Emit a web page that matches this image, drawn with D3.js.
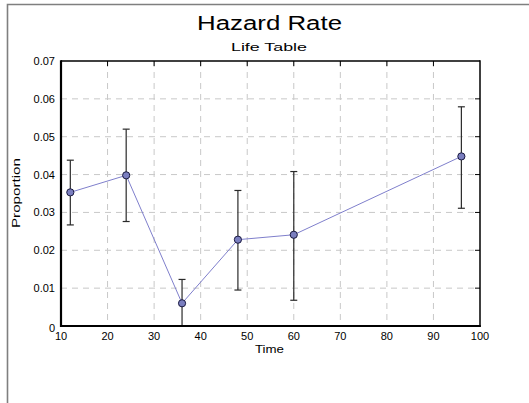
<!DOCTYPE html>
<html><head><meta charset="utf-8">
<script src="https://cdn.jsdelivr.net/npm/d3@7"></script>
<style>body{margin:0;background:#fff}svg{display:block}text{font-family:"Liberation Sans",Arial,sans-serif;fill:#000}</style>
</head><body><svg id="c" width="529" height="403"></svg>
<script>
const times = [12, 24, 36, 48, 60, 96];
const hazard = [0.0353, 0.0398, 0.0060, 0.0228, 0.0241, 0.0448];
const upper = [0.0438, 0.0520, 0.0123, 0.0358, 0.0408, 0.0579];
const lower = [0.0267, 0.0276, -0.0010, 0.0095, 0.0068, 0.0311];
const xTicks = [10,20,30,40,50,60,70,80,90,100];
const yTicks = [0,0.01,0.02,0.03,0.04,0.05,0.06,0.07];
const yTickLabels = ["0","0.01","0.02","0.03","0.04","0.05","0.06","0.07"];

const svg = d3.select("#c");
const L=61, R=480, T=61, B=326;
const x = d3.scaleLinear().domain([10,100]).range([L,R]);
const y = d3.scaleLinear().domain([0,0.07]).range([B,T]);

// outer frame
svg.append("path").attr("d","M7.5,540 L7.5,4.5 L540,4.5").attr("fill","none").attr("stroke","#7f7f7f").attr("stroke-width",1.6);

// grid
const g = svg.append("g");
g.selectAll(".vg").data(xTicks.slice(1,-1)).join("line")
 .attr("x1",d=>x(d)).attr("x2",d=>x(d)).attr("y1",T).attr("y2",B)
 .attr("stroke","#c8c8c8").attr("stroke-dasharray","6,5");
g.selectAll(".hg").data(yTicks.slice(1,-1)).join("line")
 .attr("y1",d=>y(d)).attr("y2",d=>y(d)).attr("x1",L).attr("x2",R)
 .attr("stroke","#c8c8c8").attr("stroke-dasharray","6,5");

// inward ticks on top and right
g.selectAll(".tt").data(xTicks.slice(1,-1)).join("line")
 .attr("x1",d=>x(d)).attr("x2",d=>x(d)).attr("y1",T).attr("y2",T+5).attr("stroke","#000");
g.selectAll(".rt").data(yTicks.slice(1,-1)).join("line")
 .attr("y1",d=>y(d)).attr("y2",d=>y(d)).attr("x1",R).attr("x2",R-5).attr("stroke","#000");

svg.append("clipPath").attr("id","pc").append("rect").attr("x",L).attr("y",T).attr("width",R-L).attr("height",B-T);
const data = times.map((t,i)=>({t,h:hazard[i],u:upper[i],l:lower[i]}));
const pg = svg.append("g").attr("clip-path","url(#pc)");
// line
pg.append("path").datum(data).attr("fill","none").attr("stroke","#7f7fcc").attr("stroke-width",1)
 .attr("d",d3.line().x(d=>x(d.t)).y(d=>y(d.h)));
// error bars
const eb = pg.selectAll(".eb").data(data).join("g").attr("stroke","#2a2a2a").attr("stroke-width",1.2);
eb.append("line").attr("x1",d=>x(d.t)).attr("x2",d=>x(d.t)).attr("y1",d=>y(d.u)).attr("y2",d=>y(d.l));
eb.append("line").attr("x1",d=>x(d.t)-3.5).attr("x2",d=>x(d.t)+3.5).attr("y1",d=>y(d.u)).attr("y2",d=>y(d.u));
eb.append("line").attr("x1",d=>x(d.t)-3.5).attr("x2",d=>x(d.t)+3.5).attr("y1",d=>y(d.l)).attr("y2",d=>y(d.l));
// markers
svg.selectAll(".pt").data(data).join("circle").attr("cx",d=>x(d.t)).attr("cy",d=>y(d.h)).attr("r",3.6)
 .attr("fill","#7b7fc0").attr("stroke","#1a1a40").attr("stroke-width",1);

// plot border
svg.append("line").attr("x1",L).attr("x2",R).attr("y1",T).attr("y2",T).attr("stroke","#000").attr("stroke-width",1.5);
svg.append("line").attr("x1",R).attr("x2",R).attr("y1",T-0.75).attr("y2",B+1).attr("stroke","#000").attr("stroke-width",1.5);
svg.append("line").attr("x1",L).attr("x2",L).attr("y1",T-0.75).attr("y2",B+1).attr("stroke","#000").attr("stroke-width",2.2);
svg.append("line").attr("x1",L-1).attr("x2",R+0.75).attr("y1",B).attr("y2",B).attr("stroke","#000").attr("stroke-width",2.2);

// tick labels
svg.selectAll(".xl").data(xTicks).join("text").attr("x",d=>x(d)).attr("y",B+14)
 .attr("text-anchor","middle").attr("font-size",11).text(d=>d);
svg.selectAll(".yl").data(yTicks).join("text").attr("x",(d,i)=> i===0 ? L-6 : L-6).attr("y",(d,i)=> i===0 ? B+6 : y(d)+4)
 .attr("text-anchor","end").attr("font-size",11).text((d,i)=>yTickLabels[i]);

// titles
svg.append("text").attr("x",197).attr("y",30).attr("font-size",20)
 .attr("textLength",145).attr("lengthAdjust","spacingAndGlyphs").text("Hazard Rate");
svg.append("text").attr("x",231).attr("y",51).attr("font-size",11.5)
 .attr("textLength",76).attr("lengthAdjust","spacingAndGlyphs").text("Life Table");
svg.append("text").attr("x",255).attr("y",353).attr("font-size",11)
 .attr("textLength",29).attr("lengthAdjust","spacingAndGlyphs").text("Time");
svg.append("text").attr("transform","translate(20,228) rotate(-90)").attr("font-size",11)
 .attr("textLength",70).attr("lengthAdjust","spacingAndGlyphs").text("Proportion");
</script></body></html>
